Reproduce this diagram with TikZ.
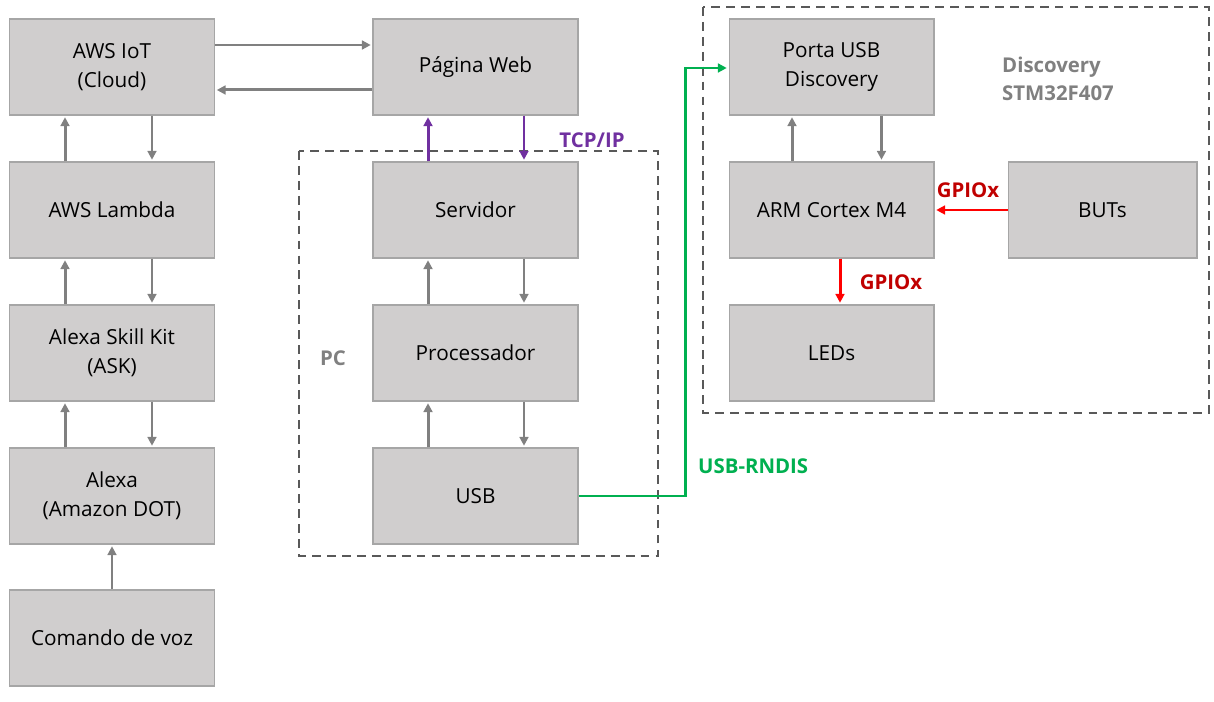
\documentclass[tikz,border=0pt]{standalone}
\usepackage{fontspec}
\setmainfont{Open Sans}
\usetikzlibrary{arrows.meta}

\definecolor{boxfill}{HTML}{D0CECE}
\definecolor{boxline}{HTML}{A6A6A6}
\definecolor{arrgray}{HTML}{808080}
\definecolor{dashgray}{HTML}{595959}
\definecolor{tcpc}{HTML}{7030A0}
\definecolor{usbc}{HTML}{00B050}
\definecolor{gpioc}{HTML}{C00000}
\definecolor{gpioarr}{HTML}{FF0000}

\begin{document}
\begin{tikzpicture}[x=0.02cm,y=-0.02cm,
        >={Triangle[length=5pt,width=5pt]},
        block/.style={draw=boxline,fill=boxfill,line width=0.6pt,
          minimum width=4.1cm,minimum height=1.92cm,inner sep=0pt,
          align=center,font=\fontsize{11.8}{16.4}\selectfont},
        link/.style={->,draw=arrgray,line width=1.7pt,shorten >=1pt},
        group/.style={draw=dashgray,line width=1.1pt,dash pattern=on 5pt off 3.5pt},
        tag/.style={font=\bfseries\fontsize{11.6}{15.8}\selectfont,align=left}]

  \useasboundingbox (0,0) rectangle (1214,702);

  % dashed groups
  \draw[group] (299,151) rectangle (658,556);
  \draw[group] (703,7) rectangle (1209,413);

  % left column
  \node[block] (iot) at (112,67) {AWS IoT\\(Cloud)};
  \node[block] (lambda) at (112,210) {AWS Lambda};
  \node[block] (ask) at (112,353) {Alexa Skill Kit\\(ASK)};
  \node[block] (alexa) at (112,496) {Alexa\\(Amazon DOT)};
  \node[block] (voz) at (112,638) {Comando de voz};

  % middle column
  \node[block] (web) at (475.5,67) {Página Web};
  \node[block] (serv) at (475.5,210) {Servidor};
  \node[block] (proc) at (475.5,353) {Processador};
  \node[block] (usb) at (475.5,496) {USB};

  % right column
  \node[block] (porta) at (831.5,67) {Porta USB\\Discovery};
  \node[block] (arm) at (831.5,210) {ARM Cortex M4};
  \node[block] (leds) at (831.5,353) {LEDs};
  \node[block,minimum width=3.78cm] (buts) at (1102.5,210) {BUTs};

  % labels
  \node[tag,text=arrgray] (pc) at (333,358) {PC};
  \node[tag,text=arrgray,anchor=west] (disc) at (996,79) {Discovery\\STM32F407};
  \node[tag,text=tcpc] (tcp) at (592,140) {TCP/IP};
  \node[tag,text=usbc,anchor=west] (rndis) at (692,466) {USB-RNDIS};
  \node[tag,text=gpioc] (gpa) at (968,190) {GPIOx};
  \node[tag,text=gpioc] (gpb) at (891,282) {GPIOx};

  % cloud side
  \draw[link] ([yshift=0.44cm]iot.east) -- ([yshift=0.44cm]web.west);
  \draw[link] ([yshift=-0.46cm]web.west) -- ([yshift=-0.46cm]iot.east);
  \draw[link] ([xshift=-0.94cm]lambda.north) -- ([xshift=-0.94cm]iot.south);
  \draw[link] ([xshift=0.8cm]iot.south) -- ([xshift=0.8cm]lambda.north);
  \draw[link] ([xshift=-0.94cm]ask.north) -- ([xshift=-0.94cm]lambda.south);
  \draw[link] ([xshift=0.8cm]lambda.south) -- ([xshift=0.8cm]ask.north);
  \draw[link] ([xshift=-0.94cm]alexa.north) -- ([xshift=-0.94cm]ask.south);
  \draw[link] ([xshift=0.8cm]ask.south) -- ([xshift=0.8cm]alexa.north);
  \draw[link] (voz) -- (alexa);

  % PC side
  \draw[link,draw=tcpc] ([xshift=-0.95cm]serv.north) -- ([xshift=-0.95cm]web.south);
  \draw[link,draw=tcpc] ([xshift=0.97cm]web.south) -- ([xshift=0.97cm]serv.north);
  \draw[link] ([xshift=-0.95cm]proc.north) -- ([xshift=-0.95cm]serv.south);
  \draw[link] ([xshift=0.97cm]serv.south) -- ([xshift=0.97cm]proc.north);
  \draw[link] ([xshift=-0.95cm]usb.north) -- ([xshift=-0.95cm]proc.south);
  \draw[link] ([xshift=0.97cm]proc.south) -- ([xshift=0.97cm]usb.north);
  \draw[link,draw=usbc] (usb.east) -- ++(2.14cm,0) |- ([yshift=-0.02cm]porta.west);

  % Discovery side
  \draw[link] ([xshift=-0.79cm]arm.north) -- ([xshift=-0.79cm]porta.south);
  \draw[link] ([xshift=1cm]porta.south) -- ([xshift=1cm]arm.north);
  \draw[link,draw=gpioarr] (buts) -- (arm);
  \draw[link,draw=gpioarr] ([xshift=0.17cm]arm.south) -- ([xshift=0.17cm]leds.north);

\end{tikzpicture}
\end{document}
